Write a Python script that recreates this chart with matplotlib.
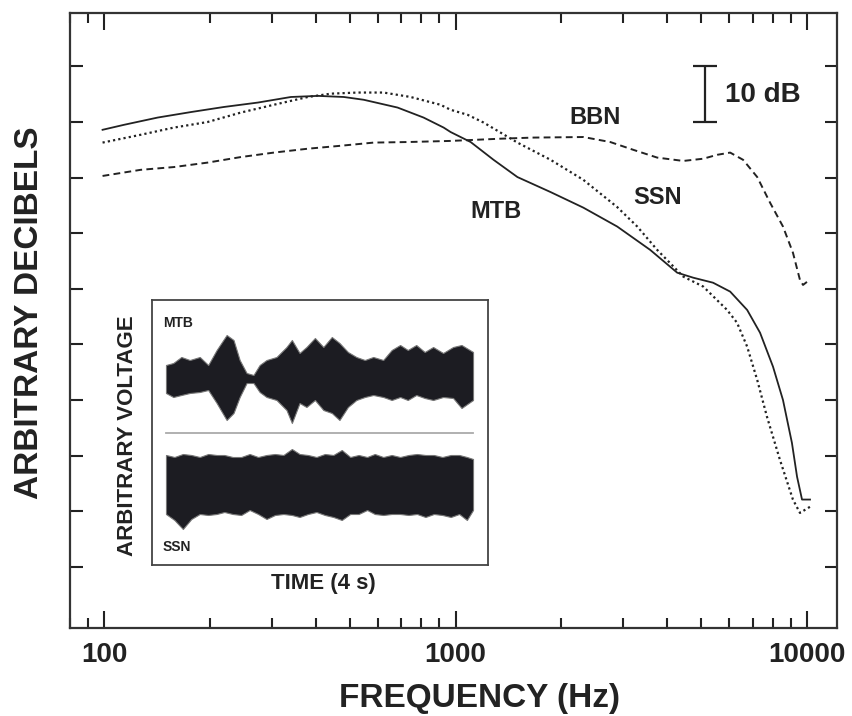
import numpy as np
import matplotlib
matplotlib.use("Agg")
import matplotlib.pyplot as plt
from matplotlib.ticker import LogLocator, NullFormatter, FixedLocator, FixedFormatter

plt.rcParams["font.family"] = ["Liberation Sans", "DejaVu Sans"]
plt.rcParams["font.weight"] = "bold"
INK = "#222222"

# long-term spectra (Hz, arbitrary dB)
mtb_f = [99, 114, 142, 177, 219, 274, 340, 406, 481, 548, 684, 811, 925, 968, 1104, 1283,
         1500, 1864, 2310, 2884, 3580, 4273, 4747, 5404, 6045, 6757, 7353, 8004, 8545,
         9060, 9370, 9680, 10200]
mtb_db = [78.6, 79.5, 80.8, 81.8, 82.7, 83.5, 84.5, 84.7, 84.5, 84.0, 82.6, 80.8, 79.0, 78.2,
          76.4, 73.2, 70.1, 67.4, 64.6, 61.2, 57.0, 52.9, 52.0, 51.1, 49.5, 46.2, 42.1, 36.0,
          30.0, 22.3, 16.2, 12.1, 12.1]
ssn_f = [99, 127, 158, 197, 245, 304, 380, 442, 527, 624, 745, 906, 968, 1082, 1202, 1500,
         1864, 2310, 2884, 3289, 3748, 4446, 5069, 5925, 6324, 6757, 7218, 7693, 8380, 9120,
         9550, 10200]
ssn_db = [76.3, 77.7, 79.0, 80.0, 81.7, 83.1, 84.5, 85.1, 85.3, 85.3, 84.5, 83.1, 82.2, 81.3,
          79.9, 76.3, 73.2, 69.6, 64.7, 61.2, 57.0, 52.2, 50.4, 46.2, 43.9, 39.6, 33.6, 27.0,
          19.2, 12.1, 9.7, 10.8]
bbn_f = [99, 127, 158, 197, 245, 304, 380, 466, 585, 731, 968, 1343, 1666, 2310, 2756, 3204,
         3748, 4446, 5069, 5550, 6045, 6580, 7218, 7850, 8545, 9120, 9550, 9745, 10070]
bbn_db = [70.3, 71.4, 71.9, 72.7, 73.7, 74.5, 75.2, 75.7, 76.3, 76.4, 76.6, 77.0, 77.2, 77.3,
          76.4, 75.0, 73.6, 73.0, 73.4, 74.1, 74.5, 73.2, 70.1, 65.5, 61.2, 56.5, 51.6, 50.7,
          51.4]

# waveform envelopes for the inset (time in s, arbitrary voltage)
mtb_t = [0.0, 0.095, 0.20, 0.31, 0.44, 0.55, 0.66, 0.79, 0.88, 0.96, 1.05, 1.14, 1.22, 1.31,
         1.44, 1.57, 1.64, 1.74, 1.83, 1.94, 2.05, 2.16, 2.26, 2.37, 2.48, 2.59, 2.70, 2.83,
         2.94, 3.05, 3.15, 3.26, 3.37, 3.48, 3.61, 3.74, 3.85, 4.0]
mtb_hi = [15, 17, 23, 20, 23, 15, 30, 45, 40, 20, 7, 5, 15, 20, 23, 33, 40, 27, 33, 42, 33, 43,
          37, 28, 23, 20, 23, 20, 30, 35, 30, 35, 28, 33, 27, 33, 35, 28]
mtb_lo = [-13, -17, -15, -13, -12, -10, -23, -40, -33, -17, -3, -3, -12, -17, -20, -30, -43,
          -23, -27, -20, -30, -33, -40, -27, -20, -17, -15, -17, -20, -17, -20, -15, -18, -20,
          -17, -18, -28, -20]
ssn_t = [0.0, 0.11, 0.22, 0.33, 0.44, 0.55, 0.66, 0.76, 0.87, 0.98, 1.09, 1.20, 1.31, 1.42,
         1.53, 1.64, 1.74, 1.85, 1.96, 2.07, 2.18, 2.29, 2.40, 2.51, 2.62, 2.72, 2.83, 2.94,
         3.05, 3.16, 3.27, 3.38, 3.49, 3.60, 3.71, 3.82, 3.92, 4.0]
ssn_hi = [32, 30, 33, 32, 30, 33, 32, 32, 30, 30, 33, 30, 32, 33, 32, 38, 33, 32, 30, 33, 32,
          37, 30, 32, 30, 33, 30, 32, 30, 32, 33, 32, 32, 30, 32, 32, 30, 28]
ssn_lo = [-27, -33, -42, -32, -27, -28, -27, -25, -27, -28, -23, -27, -32, -28, -27, -28, -30,
          -27, -25, -28, -30, -33, -27, -27, -23, -27, -28, -27, -27, -28, -27, -30, -27, -28,
          -30, -27, -33, -23]

fig = plt.figure(figsize=(8.53, 7.16), dpi=100)
ax = fig.add_axes([0.0821, 0.1229, 0.8991, 0.8589])
ax.set_xscale("log")
ax.plot(mtb_f, mtb_db, color=INK, lw=1.3, ls="-")
ax.plot(ssn_f, ssn_db, color=INK, lw=1.6, ls=(0, (1, 1.4)))
ax.plot(bbn_f, bbn_db, color=INK, lw=1.4, ls=(0, (3.5, 2.2)))
ax.set_xlim(80, 12170); ax.set_ylim(-11, 99.6)

ax.xaxis.set_major_locator(FixedLocator([100, 1000, 10000]))
ax.xaxis.set_major_formatter(FixedFormatter(["100", "1000", "10000"]))
ax.xaxis.set_minor_locator(LogLocator(base=10, subs=np.arange(2, 10)))
ax.xaxis.set_minor_formatter(NullFormatter())
ax.set_yticks(np.arange(0, 100, 10)); ax.set_yticklabels([])
ax.tick_params(axis="x", which="major", direction="in", length=12, width=1.5, top=True,
               labelsize=20, pad=10, colors=INK)
ax.tick_params(axis="x", which="minor", direction="in", length=7, width=1.5, top=True, colors=INK)
ax.tick_params(axis="y", which="major", direction="in", length=9, width=1.5, right=True, colors=INK)
for s in ax.spines.values():
    s.set_linewidth(1.6); s.set_color("#333333")
for t in ax.get_xticklabels():
    t.set_fontweight("bold")

ax.text(2495, 80.8, "BBN", ha="center", va="center", fontsize=17, color=INK)
ax.text(3767, 66.5, "SSN", ha="center", va="center", fontsize=17, color=INK)
ax.text(1303, 63.9, "MTB", ha="center", va="center", fontsize=17, color=INK)
ax.errorbar([5130], [85], yerr=[5], color=INK, lw=1.6, capsize=8.5, capthick=1.6)
ax.text(5848, 84.9, "10 dB", ha="left", va="center", fontsize=20, color=INK)

fig.text(480 / 853, 1 - 699 / 716, "FREQUENCY (Hz)", ha="center", va="center", fontsize=24, color=INK)
fig.text(30 / 853, 1 - 313 / 716, "ARBITRARY DECIBELS", ha="center", va="center",
         rotation=90, fontsize=24, color=INK)

# inset: waveforms
ins = fig.add_axes([0.1782, 0.2109, 0.3939, 0.3701])
ins.set_xlim(-0.182, 4.195); ins.set_ylim(0, 265)
ins.set_xticks([]); ins.set_yticks([])
for s in ins.spines.values():
    s.set_linewidth(1.3); s.set_color("#444444")
for t, hi, lo, c0 in [(mtb_t, mtb_hi, mtb_lo, 185), (ssn_t, ssn_hi, ssn_lo, 78)]:
    ins.fill_between(t, c0 + np.array(lo), c0 + np.array(hi), color="#1c1c22", lw=0.8,
                     edgecolor="#777777")
ins.plot([0, 4], [132, 132], color="#aaaaaa", lw=1.3)
ins.text(-0.04, 242, "MTB", ha="left", va="center", fontsize=10, color=INK)
ins.text(-0.04, 18, "SSN", ha="left", va="center", fontsize=10, color=INK)
fig.text(128 / 853, 1 - 436 / 716, "ARBITRARY VOLTAGE", ha="center", va="center",
         rotation=90, fontsize=16, color=INK)
fig.text(323 / 853, 1 - 583 / 716, "TIME (4 s)", ha="center", va="center", fontsize=16, color=INK)

fig.savefig("out.png", dpi=100)
